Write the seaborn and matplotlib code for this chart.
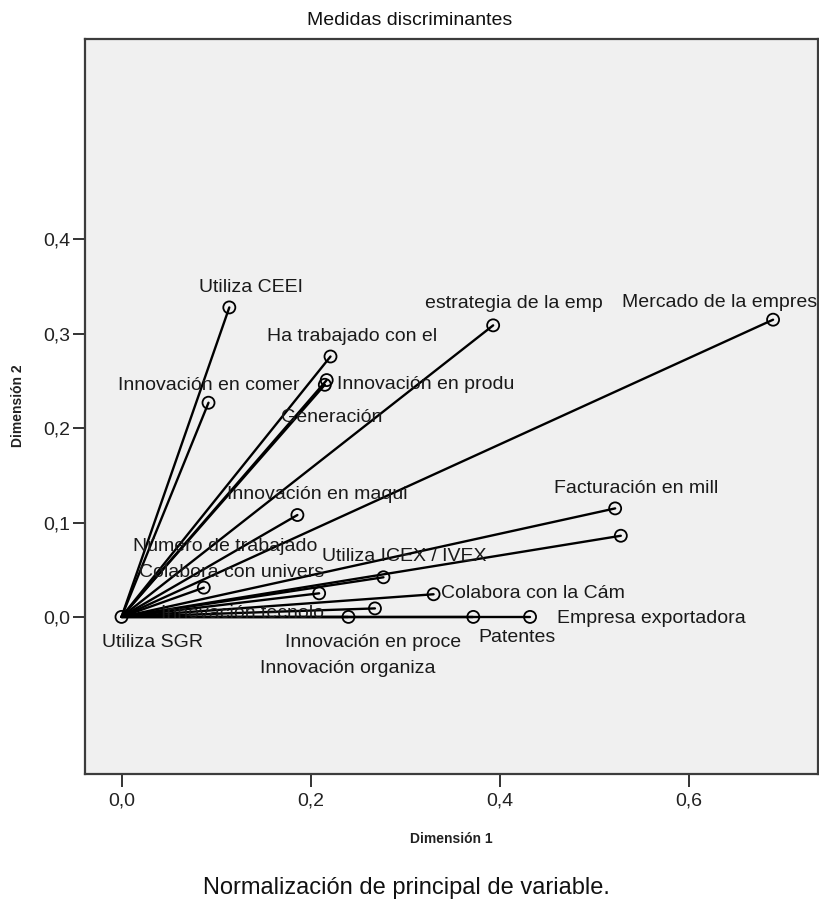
import matplotlib
matplotlib.use('Agg')
import matplotlib.pyplot as plt
import seaborn as sns
import pandas as pd

# ---- data ----
variables = [
    "Utiliza CEEI", "Ha trabajado con el", "Innovación en comer", "Innovación en produ",
    "Generación", "estrategia de la emp", "Mercado de la empres", "Innovación en maqui",
    "Facturación en mill", "Innovación tecnolo", "Colabora con univers", "Número de trabajado",
    "Utiliza ICEX / IVEX", "Colabora con la Cám", "Innovación en proce", "Innovación organiza",
    "Patentes", "Empresa exportadora", "Utiliza SGR",
]
dim1 = [0.114, 0.221, 0.092, 0.217, 0.215, 0.393, 0.689, 0.186, 0.522, 0.528,
        0.087, 0.209, 0.277, 0.330, 0.268, 0.240, 0.372, 0.432, 0.000]
dim2 = [0.328, 0.276, 0.227, 0.251, 0.246, 0.309, 0.315, 0.108, 0.115, 0.086,
        0.031, 0.025, 0.042, 0.024, 0.009, 0.000, 0.000, 0.000, 0.000]

x_ticks = [0.0, 0.2, 0.4, 0.6]
x_tick_labels = ["0,0", "0,2", "0,4", "0,6"]
y_ticks = [0.0, 0.1, 0.2, 0.3, 0.4]
y_tick_labels = ["0,0", "0,1", "0,2", "0,3", "0,4"]

title = "Medidas discriminantes"
x_label = "Dimensión 1"
y_label = "Dimensión 2"
footnote = "Normalización de principal de variable."

# ---- label layout (offset pixels from the point, anchor) ----
label_offsets = [
    (22, 15), (22, 15), (0, 13), (10, -9), (7, -37), (21, 17), (-54, 13), (20, 16),
    (21, 15), (-378, -82), (28, 11), (-94, 42), (21, 16), (7, -4), (-2, -39), (-1, -56),
    (44, -25), (27, -6), (31, -30),
]
label_ha = [
    "center", "center", "center", "left", "center", "center", "center", "center",
    "center", "center", "center", "center", "center", "left", "center", "center",
    "center", "left", "center",
]

sns.set_theme(style="white")
plt.rcParams['font.family'] = ['Liberation Sans', 'DejaVu Sans']

fig = plt.figure(figsize=(8.19, 9.0), dpi=100)
fig.patch.set_facecolor("white")
ax = fig.add_axes([85 / 819, 1 - 774 / 900, (818 - 85) / 819, (774 - 39) / 900])
ax.set_facecolor("#f0f0f0")

rows = []
for v, x, y in zip(variables, dim1, dim2):
    rows.append({"var": v, "d1": 0.0, "d2": 0.0})
    rows.append({"var": v, "d1": x, "d2": y})
lines = pd.DataFrame(rows)
sns.lineplot(data=lines, x="d1", y="d2", units="var", estimator=None, sort=False,
             color="black", linewidth=1.7, ax=ax, legend=False)

pts = pd.DataFrame({"var": variables, "d1": dim1, "d2": dim2})
sns.scatterplot(data=pts, x="d1", y="d2", marker="o", s=75, color="black",
                linewidth=1.3, ax=ax, legend=False, zorder=3)
coll = ax.collections[-1]
coll.set_facecolor("none")
coll.set_edgecolor("black")

for v, x, y, (dx, dy), ha in zip(variables, dim1, dim2, label_offsets, label_ha):
    ax.annotate(v, (x, y), xytext=(dx, dy), textcoords="offset pixels",
                ha=ha, va="baseline", fontsize=14, color="#1a1a1a",
                annotation_clip=False, clip_on=True, zorder=4)

ax.set_xlim(-0.0386, 0.7365)
ax.set_ylim(-0.1665, 0.6125)
ax.set_xticks(x_ticks)
ax.set_xticklabels(x_tick_labels)
ax.set_yticks(y_ticks)
ax.set_yticklabels(y_tick_labels)
ax.tick_params(axis="both", direction="out", length=9, width=1.4, color="#333333",
               labelsize=14, labelcolor="#222222", bottom=True, left=True)
ax.tick_params(axis="x", pad=4)
ax.tick_params(axis="y", pad=1.5)
ax.set_xlabel("")
ax.set_ylabel("")
for s in ax.spines.values():
    s.set_visible(True)
    s.set_color("#3c3c3c")
    s.set_linewidth(1.6)

fig.text(409.5 / 819, 1 - 25 / 900, title, ha="center", va="baseline", fontsize=14,
         color="#111111")
fig.text(451 / 819, 1 - 843 / 900, x_label, ha="center", va="baseline", fontsize=10,
         fontweight="bold", color="#222222")
fig.text(18 / 819, 1 - 406 / 900, y_label, ha="center", va="center", rotation=90,
         fontsize=10, fontweight="bold", color="#222222")
fig.text(406 / 819, 1 - 894 / 900, footnote, ha="center", va="baseline", fontsize=17,
         color="#111111")

fig.savefig("out.png", dpi=100)
